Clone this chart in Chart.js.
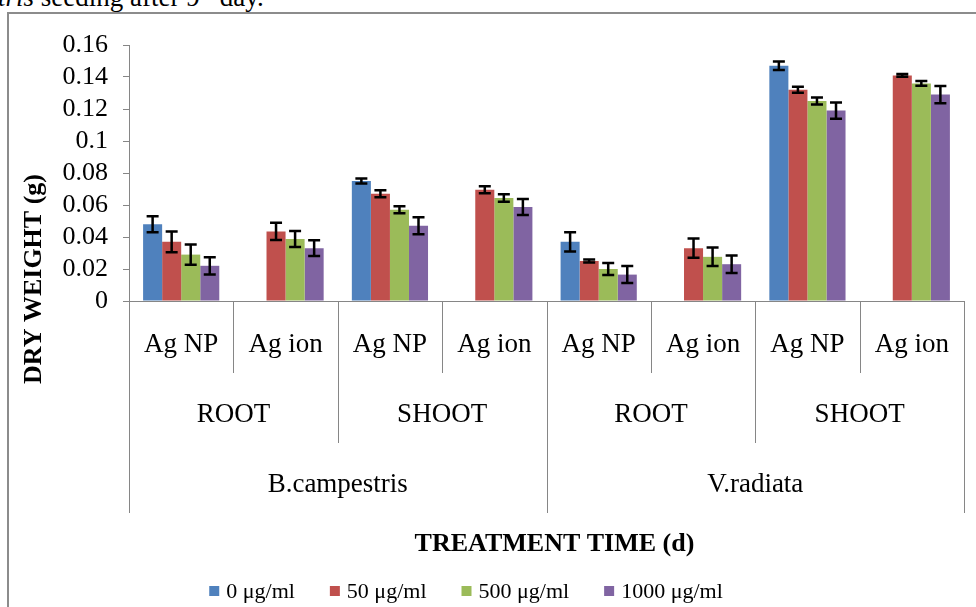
<!DOCTYPE html>
<html>
<head>
<meta charset="utf-8">
<title>Dry weight</title>
<script src="https://cdn.jsdelivr.net/npm/chart.js@4.4.1/dist/chart.umd.min.js"></script>
<style>
  html, body { margin: 0; padding: 0; background: #fff; overflow: hidden; }
  #wrap { position: relative; width: 976px; height: 607px; overflow: hidden; }
  #caption {
    position: absolute; left: -2px; top: -16px; white-space: nowrap;
    font: 27px/27px "Liberation Serif", "Times New Roman", serif; color: #000;
  }
  #caption sup { font-size: 17px; line-height: 0; }
  #frame {
    position: absolute; left: 7px; top: 12px; width: 990px; height: 620px;
    border: 2px solid #8c8c8c; box-sizing: border-box;
  }
  #chart { position: absolute; left: 0; top: 0; }
</style>
</head>
<body>
<div id="wrap">
  <div id="caption"><i>tris</i> seeding after 9<sup>th</sup> day.</div>
  <div id="frame"></div>
  <canvas id="chart" width="976" height="607"></canvas>
</div>
<script>
// categories, three levels deep
const treatments = ['Ag NP', 'Ag ion', 'Ag NP', 'Ag ion', 'Ag NP', 'Ag ion', 'Ag NP', 'Ag ion'];
const tissues = ['ROOT', 'SHOOT', 'ROOT', 'SHOOT'];
const species = ['B.campestris', 'V.radiata'];

const seriesNames = ['0 μg/ml', '50 μg/ml', '500 μg/ml', '1000 μg/ml'];
const seriesColors = ['#4F81BD', '#C0504D', '#9BBB59', '#8064A2'];

// dry weight (g)
const dose0 = [0.048, null, 0.075, null, 0.037, null, 0.147, null];
const dose50 = [0.037, 0.0435, 0.067, 0.0695, 0.025, 0.033, 0.132, 0.141];
const dose500 = [0.029, 0.0388, 0.057, 0.0644, 0.020, 0.0276, 0.125, 0.136];
const dose1000 = [0.022, 0.033, 0.047, 0.0588, 0.0165, 0.023, 0.119, 0.129];

// error bar half-widths
const err0 = [0.005, null, 0.0016, null, 0.006, null, 0.0027, null];
const err50 = [0.0065, 0.0054, 0.0022, 0.0022, 0.001, 0.006, 0.0019, 0.0008];
const err500 = [0.0063, 0.005, 0.0022, 0.0023, 0.0038, 0.0058, 0.0022, 0.0015];
const err1000 = [0.0054, 0.0049, 0.0053, 0.005, 0.0053, 0.0055, 0.0051, 0.0054];

const yTickLabels = ['0', '0.02', '0.04', '0.06', '0.08', '0.1', '0.12', '0.14', '0.16'];

const FONT = '"Liberation Serif", "Times New Roman", serif';
const AXIS_GRAY = '#868686';

const seriesData = [dose0, dose50, dose500, dose1000];
const seriesErr = [err0, err50, err500, err1000];

// error bars drawn on top of the bars
const errorBars = {
  id: 'errorBars',
  afterDatasetsDraw(chart) {
    const { ctx, scales: { y } } = chart;
    ctx.save();
    ctx.strokeStyle = '#000';
    ctx.lineWidth = 2.5;
    chart.data.datasets.forEach((ds, di) => {
      const meta = chart.getDatasetMeta(di);
      meta.data.forEach((bar, i) => {
        const v = ds.data[i], e = ds.errors[i];
        if (v == null || e == null) return;
        const top = y.getPixelForValue(v + e);
        const bot = y.getPixelForValue(v - e);
        ctx.beginPath();
        ctx.moveTo(bar.x, top); ctx.lineTo(bar.x, bot);
        ctx.moveTo(bar.x - 6, top); ctx.lineTo(bar.x + 6, top);
        ctx.moveTo(bar.x - 6, bot); ctx.lineTo(bar.x + 6, bot);
        ctx.stroke();
      });
    });
    ctx.restore();
  }
};

// multi-level category axis, axis titles and legend
const groupedAxis = {
  id: 'groupedAxis',
  afterDraw(chart) {
    const { ctx, scales: { x } } = chart;
    const n = treatments.length;
    const w = (x.right - x.left) / n;
    const base = x.top;
    const edge = k => Math.round(x.left + k * w) + 0.5;

    ctx.save();
    ctx.strokeStyle = AXIS_GRAY;
    ctx.lineWidth = 1;
    for (let k = 0; k <= n; k++) {
      let len = 72;
      if (k % 2 === 0) len = 142;
      if (k % 4 === 0) len = 212;
      ctx.beginPath();
      ctx.moveTo(edge(k), base);
      ctx.lineTo(edge(k), base + len);
      ctx.stroke();
    }

    ctx.fillStyle = '#000';
    ctx.textAlign = 'center';
    ctx.textBaseline = 'alphabetic';
    ctx.font = '27px ' + FONT;
    treatments.forEach((t, i) => ctx.fillText(t, x.left + (i + 0.5) * w, base + 51));
    tissues.forEach((t, i) => ctx.fillText(t, x.left + (i * 2 + 1) * w, base + 121));
    species.forEach((t, i) => ctx.fillText(t, x.left + (i * 4 + 2) * w, base + 191));

    ctx.font = 'bold 26px ' + FONT;
    ctx.fillText('TREATMENT TIME (d)', (x.left + x.right) / 2 + 8, base + 250);

    // y title, centred on the plot plus the category axis
    ctx.save();
    ctx.textBaseline = 'middle';
    ctx.translate(34, (chart.chartArea.top + base + 212) / 2);
    ctx.rotate(-Math.PI / 2);
    ctx.fillText('DRY WEIGHT (g)', 0, 0);
    ctx.restore();

    // legend
    ctx.font = '22px ' + FONT;
    ctx.textAlign = 'left';
    const box = 10, gapText = 7, gapItem = 35;
    const items = chart.data.datasets.map(ds => ({
      label: ds.label, color: ds.backgroundColor,
      w: box + gapText + ctx.measureText(ds.label).width
    }));
    const total = items.reduce((s, it) => s + it.w, 0) + gapItem * (items.length - 1);
    let lx = 466 - total / 2;
    const ly = 591;
    items.forEach(it => {
      ctx.fillStyle = it.color;
      ctx.fillRect(lx, ly - box / 2, box, box);
      ctx.fillStyle = '#000';
      ctx.fillText(it.label, lx + box + gapText, ly + 7);
      lx += it.w + gapItem;
    });
    ctx.restore();
  }
};

new Chart(document.getElementById('chart'), {
  type: 'bar',
  data: {
    labels: treatments,
    datasets: seriesNames.map((name, i) => ({
      label: name,
      data: seriesData[i],
      errors: seriesErr[i],
      backgroundColor: seriesColors[i],
      borderWidth: 0,
      categoryPercentage: 0.73,
      barPercentage: 1.0,
    }))
  },
  options: {
    responsive: false,
    animation: false,
    layout: { padding: { left: 8, right: 12, top: 45, bottom: 298 } },
    plugins: { legend: { display: false }, tooltip: { enabled: false } },
    scales: {
      x: {
        ticks: { display: false },
        grid: { display: false },
        border: { color: AXIS_GRAY, width: 1 }
      },
      y: {
        min: 0, max: 0.16,
        afterFit(scale) { scale.width = 121; },
        ticks: {
          stepSize: 0.02,
          autoSkip: false,
          color: '#000',
          padding: 15,
          font: { family: FONT, size: 26 },
          callback: (v, i) => yTickLabels[i]
        },
        grid: { drawOnChartArea: false, tickLength: 6, color: AXIS_GRAY },
        border: { color: AXIS_GRAY, width: 1 }
      }
    }
  },
  plugins: [errorBars, groupedAxis]
});
</script>
</body>
</html>
